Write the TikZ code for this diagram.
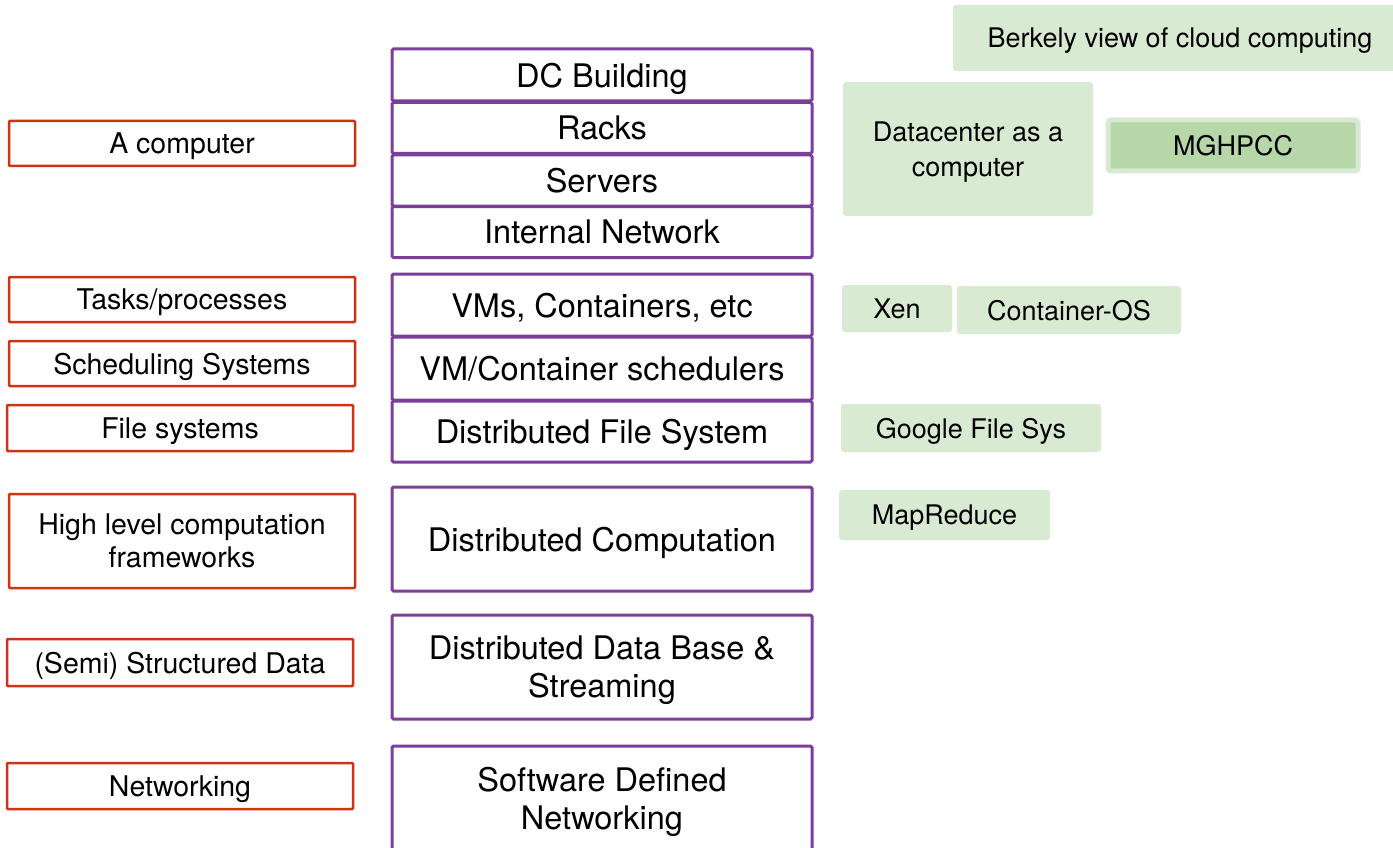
\documentclass[tikz,border=0pt]{standalone}
\usepackage{fontspec}
\setmainfont{TeX Gyre Heros}
\definecolor{layerpurple}{HTML}{7B3F99}
\definecolor{conceptred}{HTML}{CC3416}
\definecolor{paperfill}{HTML}{D9EAD3}
\definecolor{paperdark}{HTML}{B6D7A8}
\begin{document}
\begin{tikzpicture}[x=1pt,y=-1pt]
    \useasboundingbox (0,0) rectangle (1393,848);

    %%%%%%%%%%%%%%%%%%%%%%%%%%%%%%%%%%%%%% Couches (centre)
    \tikzstyle{couche}=[draw=layerpurple,line width=3pt,rounded corners=1.5pt,
        minimum width=420pt,align=center,inner sep=0pt,text depth=0pt,
        font=\fontsize{32.5}{38}\selectfont]
    \node[couche,minimum height=52pt] (dc) at (602,75) {DC Building};
    \node[couche,minimum height=51pt] (racks) at (602,128) {Racks};
    \node[couche,minimum height=51pt] (servers) at (602,180.5) {Servers};
    \node[couche,minimum height=51pt] (intnet) at (602,232) {Internal Network};

    \node[couche,minimum height=62pt] (vms) at (602,305) {VMs, Containers, etc};
    \node[couche,minimum height=63pt] (vmsched) at (602,368.5) {VM/Container schedulers};
    \node[couche,minimum height=61pt] (dfs) at (602,431.5) {Distributed File System};

    \node[couche,minimum height=104pt] (dcomp) at (602,539) {Distributed Computation};
    \node[couche,minimum height=104pt] (ddb) at (602,667) {Distributed Data Base \&\\Streaming};
    \node[couche,minimum height=104pt] (sdn) at (602,798) {Software Defined\\Networking};

    %%%%%%%%%%%%%%%%%%%%%%%%%%%%%%%%%%%%%% Concepts (gauche)
    \tikzstyle{concept}=[draw=conceptred,line width=2.5pt,rounded corners=1pt,
        minimum width=346pt,align=center,inner sep=0pt,text depth=0pt,
        font=\fontsize{28.5}{33}\selectfont]
    \node[concept,minimum height=45pt] (computer) at (182,143.5) {A computer};
    \node[concept,minimum height=45pt] (tasks) at (182,299.5) {Tasks/processes};
    \node[concept,minimum height=45pt] (scheduling) at (182,363.5) {Scheduling Systems};
    \node[concept,minimum height=46pt] (filesys) at (180,428) {File systems};
    \node[concept,minimum height=94pt] (highlevel) at (182,541) {High level computation\\frameworks};
    \node[concept,minimum height=47pt] (semi) at (180,662.5) {(Semi) Structured Data};
    \node[concept,minimum height=46pt] (networking) at (180,786) {Networking};

    %%%%%%%%%%%%%%%%%%%%%%%%%%%%%%%%%%%%%% Articles (droite)
    \tikzstyle{article}=[fill=paperfill,rounded corners=3pt,align=center,inner sep=0pt,
        text depth=0pt,font=\fontsize{27}{35}\selectfont]
    \node[article,minimum width=454pt,minimum height=66pt] (berkeley) at (1180,38) {Berkely view of cloud computing};
    \node[article,minimum width=250pt,minimum height=134pt] (dcasc) at (968,149) {Datacenter as a\\computer};
    \node[article,fill=paperdark,draw=paperfill,line width=5pt,
        minimum width=250pt,minimum height=51pt] (mghpcc) at (1233,145.5) {MGHPCC};
    \node[article,minimum width=110pt,minimum height=47pt] (xen) at (897,308.5) {Xen};
    \node[article,minimum width=224pt,minimum height=48pt] (containeros) at (1069,310) {Container-OS};
    \node[article,minimum width=260pt,minimum height=48pt] (gfs) at (971,428) {Google File Sys};
    \node[article,minimum width=211pt,minimum height=50pt] (mapreduce) at (944.5,515) {MapReduce};
\end{tikzpicture}
\end{document}
